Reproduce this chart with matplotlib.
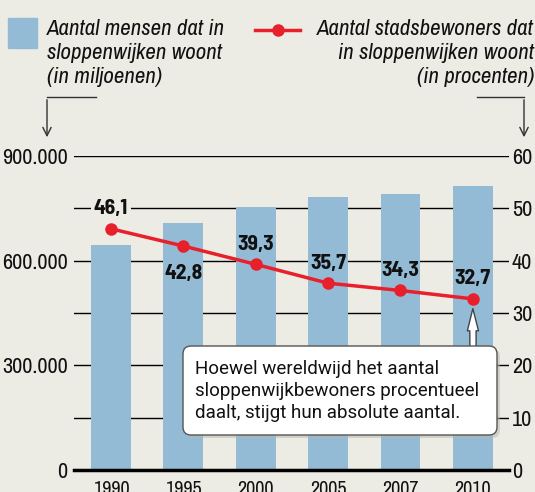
import matplotlib
matplotlib.use("Agg")
import matplotlib.pyplot as plt
import matplotlib.transforms as mtransforms
from matplotlib.patches import Rectangle, FancyBboxPatch, FancyArrowPatch
from matplotlib.lines import Line2D

# data
years = ["1990", "1995", "2000", "2005", "2007", "2010"]
slum_people = [645000, 708000, 754000, 782000, 791000, 814000]
slum_pct = [46.1, 42.8, 39.3, 35.7, 34.3, 32.7]
label_below = [False, True, False, False, False, False]

left_ticks = [0, 300000, 600000, 900000]
right_ticks = [0, 10, 20, 30, 40, 50, 60]

BG = "#ECEBE4"
BLUE = "#94BBD6"
RED = "#E8202B"
NARROW = ["Archivo Narrow", "Barlow Condensed", "DejaVu Sans"]
BOLD_NARROW = ["Barlow Semi Condensed", "Barlow Condensed", "DejaVu Sans"]

plt.rcParams["font.family"] = NARROW

W, H = 535, 492
fig = plt.figure(figsize=(W / 100, H / 100), dpi=100, facecolor=BG)
# pixel coords, origin top-left
px = mtransforms.Affine2D().scale(1 / W, -1 / H).translate(0, 1) + fig.transFigure

ax = fig.add_axes([74 / W, 1 - 470 / H, 435 / W, 314 / H])
ax.set_facecolor(BG)

x = list(range(len(years)))
ax.bar(x, slum_people, width=0.55, color=BLUE, zorder=2)
for v in range(150000, 900001, 150000):
    ax.axhline(v, color="black", lw=1, zorder=1)
ax.axhline(0, color="black", lw=2.5, zorder=3, clip_on=False)

ax.set_xlim(-0.51, 5.5)
ax.set_ylim(0, 900000)
ax.set_xticks(x, labels=years)
ax.set_yticks(left_ticks, labels=[f"{v:,}".replace(",", ".") for v in left_ticks])
ax.tick_params(length=0, colors="#111111")
ax.tick_params(axis="y", pad=4.5, labelsize=16)
ax.tick_params(axis="x", pad=7, labelsize=14.5)
for s in ax.spines.values():
    s.set_visible(False)

ax2 = ax.twinx()
ax2.set_ylim(0, 60)
ax2.set_yticks(right_ticks)
ax2.tick_params(length=0, pad=2, labelsize=16, colors="#111111")
for s in ax2.spines.values():
    s.set_visible(False)

ax2.plot(x, slum_pct, color=RED, lw=2.5, marker="o", ms=8, zorder=3)
for i, (v, below) in enumerate(zip(slum_pct, label_below)):
    # first label sits on the background and breaks the grid line
    bg = dict(boxstyle="square,pad=0.15", fc=BG, ec="none") if i == 0 else None
    ax2.annotate(f"{v}".replace(".", ","), (i, v),
                 xytext=(0, -19.5 if below else 14.5), textcoords="offset points",
                 ha="center", va="center", fontweight="bold", fontsize=15.5,
                 family=BOLD_NARROW, color="#111111", bbox=bg)

# callout arrow to the 2010 point
ax2.annotate("", xy=(5, slum_pct[-1]), xytext=(473, 350), textcoords=px,
             arrowprops=dict(arrowstyle="simple,head_length=1.6,head_width=0.8,tail_width=0.45",
                             mutation_scale=10, fc="white", ec="#444444", lw=1,
                             shrinkA=0, shrinkB=7))

# callout box
shadow = FancyBboxPatch((186, 349), 314, 89, boxstyle="round,pad=0,rounding_size=8",
                        transform=px, fc="#b9b8ae", ec="none", alpha=0.5, zorder=1)
box = FancyBboxPatch((183, 346), 314, 89, boxstyle="round,pad=0,rounding_size=8",
                     transform=px, fc="white", ec="#555555", lw=1, zorder=1.1)
fig.add_artist(shadow)
fig.add_artist(box)
fig.text(195, 391, "Hoewel wereldwijd het aantal\nsloppenwijkbewoners procentueel\n"
         "daalt, stijgt hun absolute aantal.", transform=px, ha="left", va="center",
         fontsize=13.5, family=["Roboto", "DejaVu Sans"], color="#111111",
         linespacing=1.3, zorder=2)

# legend top left
fig.add_artist(Rectangle((8, 18), 29, 30, transform=px, color=BLUE))
fig.text(47, 19, "Aantal mensen dat in\nsloppenwijken woont\n(in miljoenen)",
         transform=px, ha="left", va="top", fontsize=16.5, style="italic",
         color="#111111", linespacing=1.25)

# legend top right
fig.add_artist(Line2D([255, 300], [30, 30], transform=px, color=RED, lw=2.5))
fig.add_artist(Line2D([278], [30], transform=px, color=RED, marker="o", ms=8))
fig.text(534, 19, "Aantal stadsbewoners dat\nin sloppenwijken woont\n(in procenten)",
         transform=px, ha="right", va="top", multialignment="right", fontsize=16.5,
         style="italic", color="#111111", linespacing=1.25)

# pointer lines to the axes
fig.add_artist(Line2D([96, 47], [97, 97], transform=px, color="#333333", lw=1))
fig.add_artist(FancyArrowPatch((47, 97), (47, 140), transform=px,
                               arrowstyle="->,head_length=0.4,head_width=0.2",
                               mutation_scale=15, color="#333333", lw=1))
fig.add_artist(Line2D([477, 524], [97, 97], transform=px, color="#333333", lw=1))
fig.add_artist(FancyArrowPatch((524, 97), (524, 140), transform=px,
                               arrowstyle="->,head_length=0.4,head_width=0.2",
                               mutation_scale=15, color="#333333", lw=1))

fig.savefig("out.png", dpi=100, facecolor=BG)
